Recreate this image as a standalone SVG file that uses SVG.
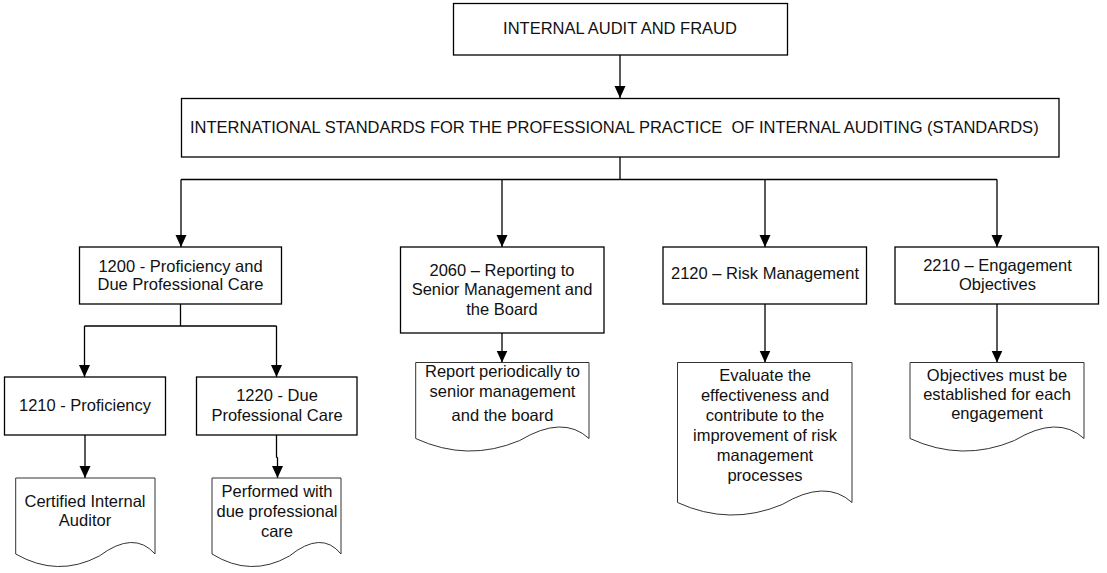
<svg xmlns="http://www.w3.org/2000/svg" width="1107" height="573" viewBox="0 0 1107 573">
<style>
.box{fill:#fff;stroke:#000;stroke-width:1.3}
.doc{fill:#fff;stroke:#333;stroke-width:1}
.t{font-family:"Liberation Sans",Arial,sans-serif;font-size:16.5px;fill:#111;text-anchor:middle}
.c{fill:none;stroke:#000;stroke-width:1.3}
</style>
<defs>
<marker id="ah" markerUnits="userSpaceOnUse" markerWidth="12" markerHeight="12" refX="12" refY="5.5" orient="auto" viewBox="0 0 12 11">
<path d="M0,0 L12,5.5 L0,11 Z" fill="#000"/>
</marker>
</defs>
<rect width="1107" height="573" fill="#fff"/>
<g id="connectors">
<path class="c" d="M620,55 V98" marker-end="url(#ah)"/>
<path class="c" d="M620,157 V179.5 M181,179.5 H997"/>
<path class="c" d="M181,179.5 V247" marker-end="url(#ah)"/>
<path class="c" d="M502,179.5 V247" marker-end="url(#ah)"/>
<path class="c" d="M765,179.5 V247" marker-end="url(#ah)"/>
<path class="c" d="M997,179.5 V247" marker-end="url(#ah)"/>
<path class="c" d="M180.5,304 V326 M84.5,326 H276.5"/>
<path class="c" d="M84.5,326 V377" marker-end="url(#ah)"/>
<path class="c" d="M276.5,326 V377" marker-end="url(#ah)"/>
<path class="c" d="M85,435 V478" marker-end="url(#ah)"/>
<path class="c" d="M276.5,435 V457 L277.5,458 V478" marker-end="url(#ah)"/>
<path class="c" d="M502,333 V362.5" marker-end="url(#ah)"/>
<path class="c" d="M765,304 V362.5" marker-end="url(#ah)"/>
<path class="c" d="M997,304 V362.5" marker-end="url(#ah)"/>
</g>
<g id="n-root">
<rect class="box" x="453.5" y="3.5" width="334" height="51.5"/>
<text class="t" x="620" y="34">INTERNAL AUDIT AND FRAUD</text>
</g>
<g id="n-standards">
<rect class="box" x="181.5" y="98.5" width="877.5" height="58.5"/>
<text class="t" x="190" y="133" style="text-anchor:start" xml:space="preserve">INTERNATIONAL STANDARDS FOR THE PROFESSIONAL PRACTICE  OF INTERNAL AUDITING (STANDARDS)</text>
</g>
<g id="n-1200">
<rect class="box" x="79.5" y="247" width="202" height="57"/>
<text class="t" x="180.5" y="271.5">1200 - Proficiency and</text>
<text class="t" x="180.5" y="289.5">Due Professional Care</text>
</g>
<g id="n-2060">
<rect class="box" x="400.5" y="247" width="203.5" height="86"/>
<text class="t" x="502" y="275.5">2060 – Reporting to</text>
<text class="t" x="502" y="295">Senior Management and</text>
<text class="t" x="502" y="314.5">the Board</text>
</g>
<g id="n-2120">
<rect class="box" x="663" y="247" width="203.5" height="57"/>
<text class="t" x="765" y="279">2120 – Risk Management</text>
</g>
<g id="n-2210">
<rect class="box" x="895" y="247" width="203.5" height="57"/>
<text class="t" x="997.5" y="270.5">2210 – Engagement</text>
<text class="t" x="997.5" y="290">Objectives</text>
</g>
<g id="n-1210">
<rect class="box" x="4.5" y="377" width="161" height="58"/>
<text class="t" x="85" y="410.5">1210 - Proficiency</text>
</g>
<g id="n-1220">
<rect class="box" x="196.5" y="377" width="160.5" height="58"/>
<text class="t" x="277" y="401">1220 - Due</text>
<text class="t" x="277" y="420.5">Professional Care</text>
</g>
<g id="d-1210">
<path class="doc" d="M15.7,554 V478 H155 V554 Q134.1,530 99.3,556 Q57.5,578 15.7,554 Z"/>
<text class="t" x="85" y="507">Certified Internal</text>
<text class="t" x="85" y="525.5">Auditor</text>
</g>
<g id="d-1220">
<path class="doc" d="M212,554 V478 H341 V554 Q321.7,530 289.4,556 Q250.7,578 212,554 Z"/>
<text class="t" x="277" y="496.5">Performed with</text>
<text class="t" x="277" y="517">due professional</text>
<text class="t" x="277" y="537">care</text>
</g>
<g id="d-2060">
<path class="doc" d="M415.7,438.5 V362.5 H589 V438.5 Q563,414.5 519.7,440.5 Q467.7,462.5 415.7,438.5 Z"/>
<text class="t" x="502.5" y="377">Report periodically to</text>
<text class="t" x="502.5" y="397">senior management</text>
<text class="t" x="502.5" y="421">and the board</text>
</g>
<g id="d-2120">
<path class="doc" d="M677.5,502.5 V362.5 H852 V502.5 Q825.8,478.5 782.2,504.5 Q729.9,526.5 677.5,502.5 Z"/>
<text class="t" x="765" y="380.5">Evaluate the</text>
<text class="t" x="765" y="400.5">effectiveness and</text>
<text class="t" x="765" y="420.5">contribute to the</text>
<text class="t" x="765" y="440.5">improvement of risk</text>
<text class="t" x="765" y="460.5">management</text>
<text class="t" x="765" y="480.5">processes</text>
</g>
<g id="d-2210">
<path class="doc" d="M910,438.5 V362.5 H1084 V438.5 Q1057.9,414.5 1014.4,440.5 Q962.2,462.5 910,438.5 Z"/>
<text class="t" x="997" y="380.5">Objectives must be</text>
<text class="t" x="997" y="400">established for each</text>
<text class="t" x="997" y="419">engagement</text>
</g>
</svg>
